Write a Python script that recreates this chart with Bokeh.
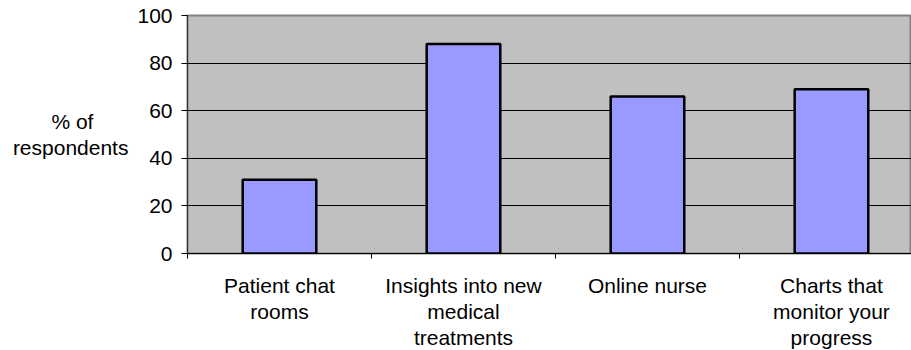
from bokeh.plotting import figure
from bokeh.models import Range1d, FixedTicker
from bokeh.embed import file_html
from bokeh.resources import INLINE

# Share of respondents interested in each online feature
categories = [
    "Patient chat\nrooms",
    "Insights into new\nmedical\ntreatments",
    "Online nurse",
    "Charts that\nmonitor your\nprogress",
]
percent = [31, 88, 66, 69]
y_ticks = [0, 20, 40, 60, 80, 100]
# non-breaking spaces keep the short first line centred over the second
y_title = "% of" + "\u00a0" * 6 + "\nrespondents"

FONT = "Liberation Sans"
SIZE = "21px"
centers = [i + 0.5 for i in range(len(categories))]

p = figure(
    frame_width=724, frame_height=238,
    output_backend="svg", toolbar_location=None,
    x_range=Range1d(0, 3.935), y_range=Range1d(0, 100),
    min_border_left=187, min_border_right=0,
    min_border_top=15, min_border_bottom=0,
)
p.border_fill_color = "white"
p.background_fill_color = "#C0C0C0"
p.outline_line_color = "#808080"
p.outline_line_width = 2

p.vbar(x=centers, top=percent, width=0.4, bottom=0,
       fill_color="#9999FF", line_color="black", line_width=2.5)

# y axis
p.yaxis.ticker = FixedTicker(ticks=y_ticks)
p.yaxis.axis_line_color = "#303030"
p.yaxis.major_tick_out = 6
p.yaxis.major_tick_in = 0
p.yaxis.minor_tick_line_color = None
p.yaxis.major_label_standoff = 9
p.yaxis.major_label_text_font = FONT
p.yaxis.major_label_text_font_size = SIZE
p.yaxis.major_label_text_color = "black"
p.yaxis.axis_label = y_title
p.yaxis.axis_label_orientation = "horizontal"
p.yaxis.axis_label_text_font = FONT
p.yaxis.axis_label_text_font_size = SIZE
p.yaxis.axis_label_text_font_style = "normal"
p.yaxis.axis_label_text_color = "black"
p.yaxis.axis_label_text_line_height = 1.15
p.yaxis.axis_label_standoff = 6

# x axis: labels centred under bars, ticks at category boundaries
p.xaxis.ticker = FixedTicker(ticks=centers, minor_ticks=list(range(len(categories) + 1)))
p.xaxis.major_label_overrides = {c: lab for c, lab in zip(centers, categories)}
p.xaxis.major_tick_line_color = None
p.xaxis.major_tick_out = 0
p.xaxis.major_tick_in = 0
p.xaxis.minor_tick_out = 5
p.xaxis.minor_tick_in = 0
p.xaxis.minor_tick_line_color = "black"
p.xaxis.axis_line_color = "black"
p.xaxis.major_label_standoff = 15
p.xaxis.major_label_text_font = FONT
p.xaxis.major_label_text_font_size = SIZE
p.xaxis.major_label_text_color = "black"
p.xaxis.major_label_text_line_height = 1.15

# grid
p.xgrid.grid_line_color = None
p.ygrid.ticker = FixedTicker(ticks=[20, 40, 60, 80])
p.ygrid.grid_line_color = "black"
p.ygrid.grid_line_width = 1

open("out.html", "w").write(file_html(p, INLINE))
